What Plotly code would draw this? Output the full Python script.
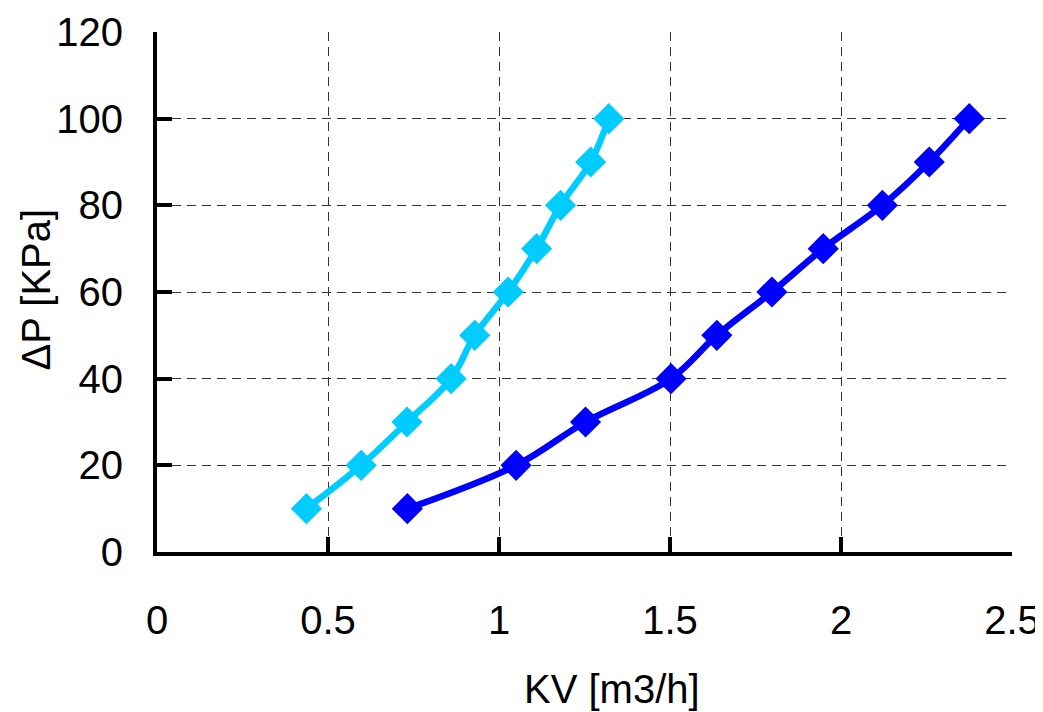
import plotly.graph_objects as go

dp_kpa = [10, 20, 30, 40, 50, 60, 70, 80, 90, 100]
kv_light = [0.437, 0.597, 0.731, 0.860, 0.929, 1.027, 1.110, 1.180, 1.268, 1.321]
kv_dark = [0.732, 1.050, 1.253, 1.503, 1.637, 1.798, 1.948, 2.121, 2.258, 2.375]

x_ticks = [0, 0.5, 1, 1.5, 2, 2.5]
x_tick_text = ["0", "0.5", "1", "1.5", "2", "2.5"]
y_ticks = [0, 20, 40, 60, 80, 100, 120]

FONT = "Liberation Sans, Arial, sans-serif"

fig = go.Figure()
fig.add_trace(go.Scatter(
    x=kv_light, y=dp_kpa, mode="lines+markers",
    line=dict(color="#00CCFF", width=6.5, shape="spline", smoothing=1.0),
    marker=dict(symbol="diamond", size=24, color="#00CCFF"),
    showlegend=False, cliponaxis=False,
))
fig.add_trace(go.Scatter(
    x=kv_dark, y=dp_kpa, mode="lines+markers",
    line=dict(color="#0000FF", width=6.5, shape="spline", smoothing=1.0),
    marker=dict(symbol="diamond", size=24, color="#0000FF"),
    showlegend=False, cliponaxis=False,
))

axis_common = dict(
    showline=True, linecolor="black", linewidth=4,
    ticks="inside", ticklen=15, tickwidth=4, tickcolor="black",
    showgrid=True, gridcolor="#333333", gridwidth=1.2, griddash="9px,6px",
    zeroline=False, mirror=False,
    tickfont=dict(family=FONT, size=40, color="black"),
)

fig.update_xaxes(range=[0, 2.5], tickvals=x_ticks, ticktext=x_tick_text,
                 ticklabelstandoff=30, **axis_common)
fig.update_yaxes(range=[0, 120], tickvals=y_ticks,
                 ticklabelstandoff=22, **axis_common)

fig.add_annotation(text="KV [m3/h]", xref="paper", yref="paper", x=0.532, y=-0.264,
                   xanchor="center", yanchor="middle", showarrow=False,
                   font=dict(family=FONT, size=40, color="black"))
fig.add_annotation(text="ΔP [KPa]", xref="paper", yref="paper", x=-0.142, y=0.504,
                   xanchor="center", yanchor="middle", showarrow=False, textangle=-90,
                   font=dict(family=FONT, size=40, color="black"))

fig.update_layout(
    width=1035, height=704,
    margin=dict(l=148.5, r=31, t=23.7, b=159.5, autoexpand=False),
    plot_bgcolor="white", paper_bgcolor="white",
)

fig.write_html("out.html")
